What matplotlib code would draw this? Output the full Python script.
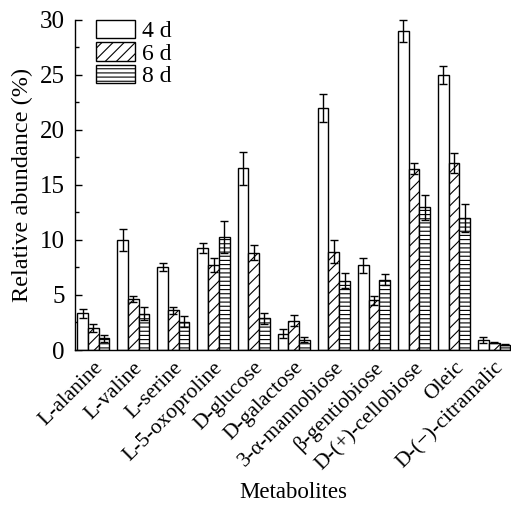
import matplotlib
matplotlib.use("Agg")
import matplotlib.pyplot as plt
import numpy as np

plt.rcParams['font.family'] = ['Liberation Serif', 'DejaVu Serif']
plt.rcParams['hatch.linewidth'] = 0.8

categories = ["L-alanine", "L-valine", "L-serine", "L-5-oxoproline", "D-glucose",
              "D-galactose", "3-α-mannobiose", "β-gentiobiose", "D-(+)-cellobiose",
              "Oleic", "D-(−)-citramalic"]
series_names = ["4 d", "6 d", "8 d"]
vals_4d = [3.35, 10.0, 7.55, 9.3, 16.5, 1.5, 22.0, 7.7, 29.0, 25.0, 0.9]
err_4d = [0.4, 1.0, 0.35, 0.45, 1.5, 0.4, 1.25, 0.7, 1.0, 0.8, 0.3]
vals_6d = [2.0, 4.65, 3.6, 7.7, 8.85, 2.65, 8.95, 4.5, 16.45, 17.0, 0.65]
err_6d = [0.4, 0.3, 0.3, 0.65, 0.7, 0.5, 1.0, 0.4, 0.5, 0.9, 0.05]
vals_8d = [1.05, 3.3, 2.55, 10.3, 2.9, 0.95, 6.3, 6.4, 12.95, 12.0, 0.5]
err_8d = [0.3, 0.6, 0.5, 1.45, 0.5, 0.2, 0.7, 0.5, 1.1, 1.3, 0.05]
hatches = ["", "///", "----"]

fig = plt.figure(figsize=(5.11, 5.08), dpi=100)
ax = fig.add_axes([0.146, 0.311, 0.854, 0.650])

x = np.arange(len(categories))
w = 0.267
for i, (v, e, h, name) in enumerate(zip([vals_4d, vals_6d, vals_8d],
                                         [err_4d, err_6d, err_8d], hatches, series_names)):
    ax.bar(x + (i - 1) * w, v, width=w, facecolor='white', edgecolor='black',
           linewidth=1.0, hatch=h, label=name, zorder=2)
    ax.errorbar(x + (i - 1) * w, v, yerr=e, fmt='none', ecolor='black',
                elinewidth=1.0, capsize=3, capthick=1.0, zorder=3, clip_on=False)

ax.set_xlim(-0.465, 10.42)
ax.set_ylim(0, 30)
ax.set_yticks([0, 5, 10, 15, 20, 25, 30])
ax.set_yticks(np.arange(2.5, 30, 5), minor=True)
ax.tick_params(axis='y', which='major', direction='in', length=5, width=1, labelsize=18, pad=7)
ax.tick_params(axis='y', which='minor', direction='in', length=3, width=1)
ax.set_xticks(x)
ax.set_xticklabels(categories, rotation=45, ha='right', rotation_mode='anchor', fontsize=15.5)
ax.tick_params(axis='x', length=0, pad=6)

ax.spines['top'].set_visible(False)
ax.spines['right'].set_visible(False)
ax.spines['left'].set_linewidth(1.0)
ax.spines['bottom'].set_linewidth(1.0)

ax.set_ylabel("Relative abundance (%)", fontsize=17.5, labelpad=5)
ax.set_xlabel("Metabolites", fontsize=16.5, labelpad=6)

leg = ax.legend(loc='upper left', bbox_to_anchor=(0.048, 1.0), frameon=False,
                fontsize=17, handlelength=1.68, handleheight=0.82, handletextpad=0.3,
                labelspacing=0.0, borderaxespad=0, borderpad=0)

fig.savefig("out.png", dpi=100)
